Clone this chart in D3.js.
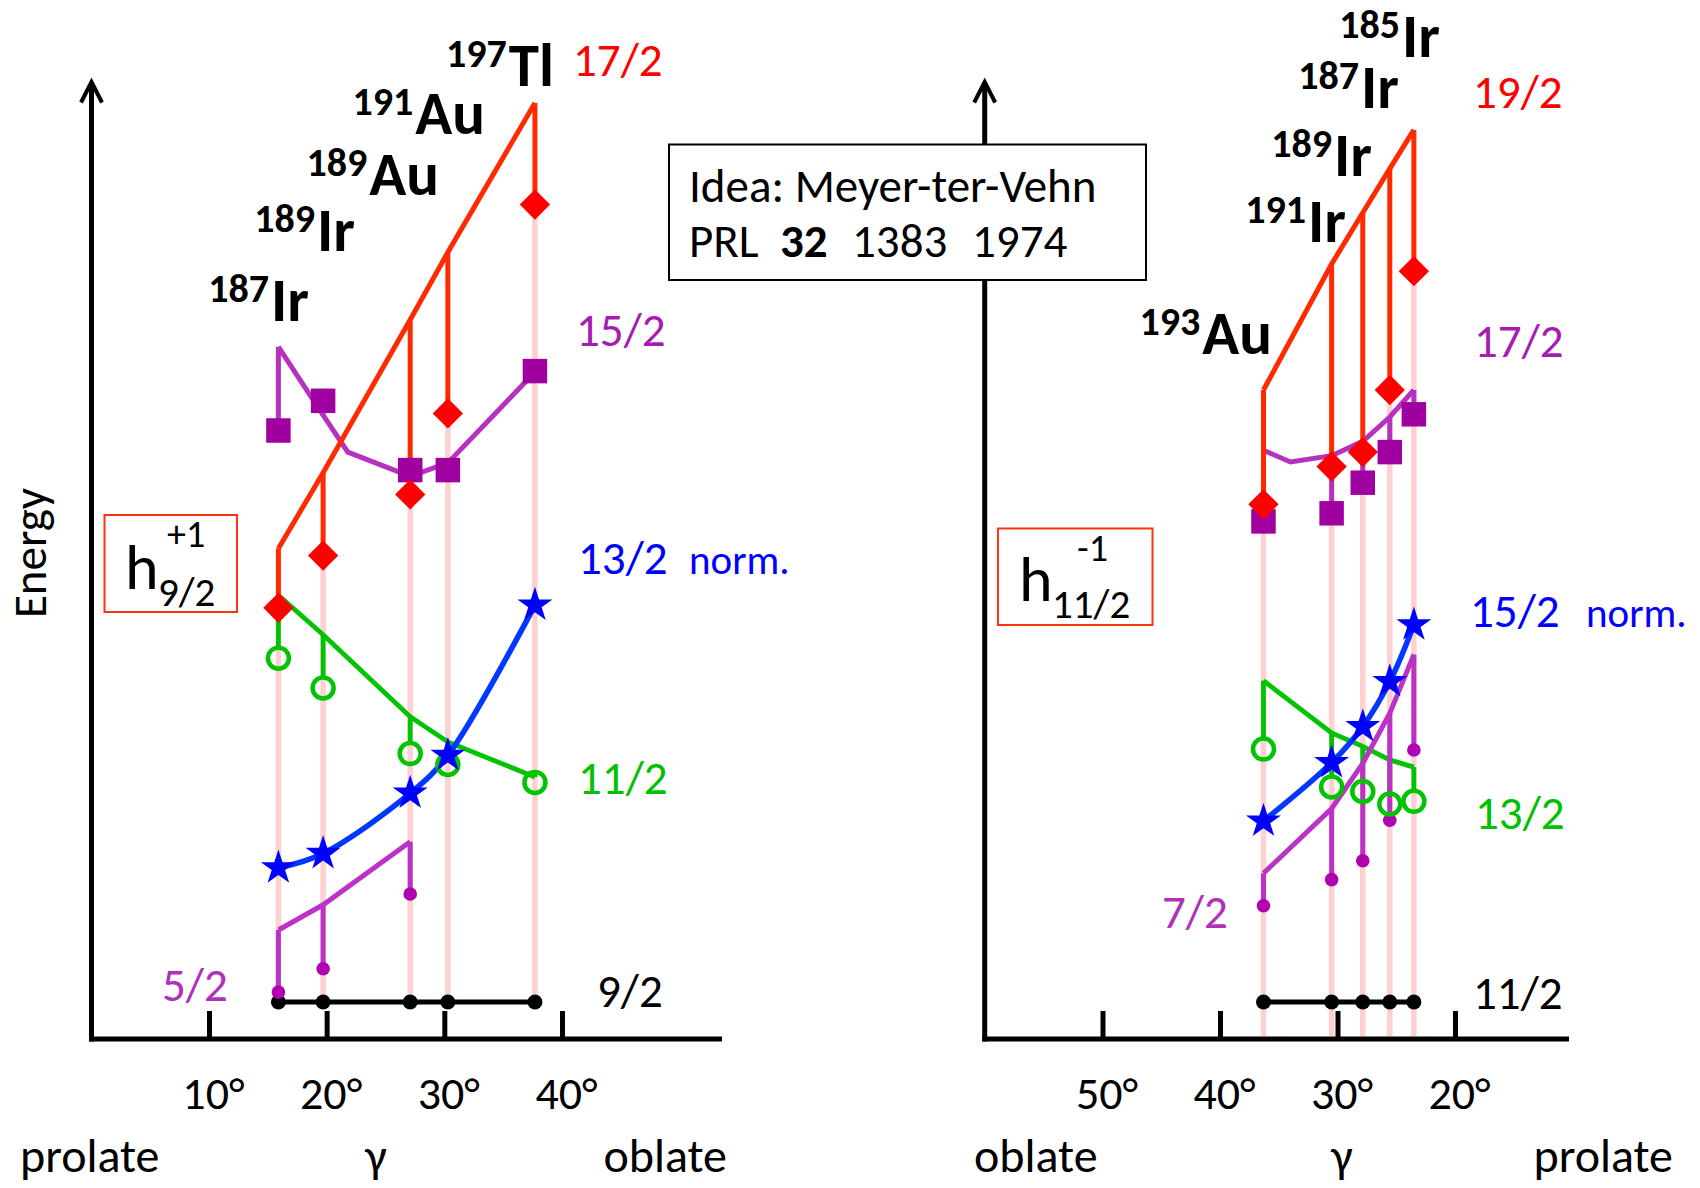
<!DOCTYPE html>
<html>
<head>
<meta charset="utf-8">
<script src="https://cdn.jsdelivr.net/npm/d3@7"></script>
<style>
  html, body { margin: 0; padding: 0; background: #fff; }
  svg { display: block; }
  text { font-family: Carlito, Lato, "DejaVu Sans", sans-serif; }
</style>
</head>
<body>
<svg id="chart" width="1700" height="1188"></svg>
<script>
// ---- data -------------------------------------------------------------
// triaxiality gamma (degrees) of each nucleus
const gammaLeft  = [15.9, 19.7, 27.1, 30.3, 37.7];
const gammaRight = [36.3, 30.5, 27.85, 25.55, 23.5];

const nucleiLeft  = [["187", "Ir"], ["189", "Ir"], ["189", "Au"], ["191", "Au"], ["197", "Tl"]];
const nucleiRight = [["193", "Au"], ["191", "Ir"], ["189", "Ir"], ["187", "Ir"], ["185", "Ir"]];

const ticksLeft  = [10, 20, 30, 40];
const ticksRight = [50, 40, 30, 20];

// h9/2 particle band, energies in arbitrary units (calc = model, exp = measured)
const left17calc = [5.04, 5.88, 7.58, 8.33, 9.99];
const left17exp  = [4.38, 4.96, 5.64, 6.54, 8.86];
const left15calc = [7.28, 6.52, 5.84, 5.99, 7.00];
const left15bend = [[21.8, 6.11]];
const left15exp  = [6.35, 6.68, 5.91, 5.91, 7.01];
const left13     = [1.49, 1.65, 2.32, 2.74, 4.41];
const left11calc = [4.52, 4.08, 3.17, 2.89, 2.50];
const left11exp  = [3.82, 3.49, 2.76, 2.64, 2.44];
const left5calc  = [0.80, 1.08, 1.78];
const left5exp   = [0.11, 0.37, 1.20];
const left9      = [0, 0, 0, 0, 0];

// h11/2 hole band
const right19calc = [6.80, 8.20, 8.77, 9.26, 9.69];
const right19exp  = [5.53, 5.95, 6.11, 6.80, 8.12];
const right17calc = [6.13, 6.07, 6.23, 6.50, 6.80];
const right17bend = [[34.0, 6.00]];
const right17exp  = [5.34, 5.43, 5.77, 6.11, 6.53];
const right15     = [2.01, 2.66, 3.06, 3.56, 4.19];
const right13calc = [3.57, 2.99, 2.84, 2.69, 2.61];
const right13exp  = [2.81, 2.39, 2.34, 2.20, 2.23];
const right7calc  = [1.43, 2.15, 2.65, 3.21, 3.86];
const right7exp   = [1.07, 1.36, 1.57, 2.02, 2.80];
const right11     = [0, 0, 0, 0, 0];

const spinsLeft  = ["17/2", "15/2", "13/2", "11/2", "9/2", "5/2"];
const spinsRight = ["19/2", "17/2", "15/2", "13/2", "11/2", "7/2"];

// ---- styles -----------------------------------------------------------
const C = {
  red: "#ff2a00", diamond: "#ff0000", redText: "#ff0000",
  purple: "#b531c0", square: "#a0009f", purpleText: "#a61cb3",
  green: "#00c400", greenText: "#00c000",
  blue: "#0038ff", star: "#0000ff", blueText: "#0000ff",
  magenta: "#bb33c4", dot: "#b000b0", magentaText: "#b030b8",
  pink: "#ffd0d0", box: "#ff3311"
};
const FS = 47;   // base label size

const svg = d3.select("#chart");
const y = d3.scaleLinear().domain([0, 10]).range([1002, 102]);

const panels = [
  {
    x: d3.scaleLinear().domain([0, 40]).range([91.3, 562]),
    axisX0: 91.5, axisX1: 722, axisY: 1039, arrowTop: 82,
    gamma: gammaLeft, ticks: ticksLeft, pinkBottom: 1002,
    red: [left17calc, left17exp],
    purple: [left15calc, left15exp, left15bend],
    green: [left11calc, left11exp],
    blue: left13,
    magenta: [left5calc, left5exp],
    base: left9,
    nuclei: nucleiLeft,
    nucleiPos: [[309, 321], [355, 251], [439, 195], [485, 134], [554, 86]],
    spins: spinsLeft,
    spinPos: [[573, 76], [576, 346], [578, 574], [578, 794], [597, 1007], [162, 1001]],
    spinColor: [C.redText, C.purpleText, C.blueText, C.greenText, "#000", C.magentaText],
    normPos: [689, 574],
    bottom: [["prolate", 20, "start"], ["\u03b3", 376, "middle"], ["oblate", 727, "end"]],
    box: { x: 104.5, y: 515, w: 132.5, h: 97, hx: 125, hy: 589, sub: "9/2", subx: 158, suby: 606, sup: "+1", supx: 167, supy: 547 }
  },
  {
    x: d3.scaleLinear().domain([60, 20]).range([985, 1455]),
    axisX0: 984.7, axisX1: 1569, axisY: 1039, arrowTop: 82,
    gamma: gammaRight, ticks: ticksRight, pinkBottom: 1036,
    red: [right19calc, right19exp],
    purple: [right17calc, right17exp, right17bend],
    green: [right13calc, right13exp],
    blue: right15,
    magenta: [right7calc, right7exp],
    base: right11,
    nuclei: nucleiRight,
    nucleiPos: [[1272, 354], [1346, 242], [1372, 176], [1399, 108], [1440, 57]],
    spins: spinsRight,
    spinPos: [[1473, 108], [1474, 357], [1470, 627], [1475, 829], [1473, 1009], [1162, 928]],
    spinColor: [C.redText, C.purpleText, C.blueText, C.greenText, "#000", C.magentaText],
    normPos: [1586, 627],
    bottom: [["oblate", 974, "start"], ["\u03b3", 1342, "middle"], ["prolate", 1673, "end"]],
    box: { x: 998, y: 528.5, w: 154.5, h: 96.5, hx: 1019, hy: 601, sub: "11/2", subx: 1052, suby: 618, sup: "-1", supx: 1077, supy: 561 }
  }
];

const line = d3.line();

function drawPanel(p) {
  const g = svg.append("g");
  const X = p.x;
  const col = i => X(p.gamma[i]);

  // axes
  g.append("line").attr("x1", p.axisX0).attr("x2", p.axisX0)
    .attr("y1", p.arrowTop + 1).attr("y2", p.axisY + 2.5)
    .attr("stroke", "#000").attr("stroke-width", 5);
  g.append("path")
    .attr("d", `M${p.axisX0 - 10.5},${p.arrowTop + 20.5} L${p.axisX0},${p.arrowTop} L${p.axisX0 + 10.5},${p.arrowTop + 20.5}`)
    .attr("fill", "none").attr("stroke", "#000").attr("stroke-width", 4);
  g.append("line").attr("x1", p.axisX0 - 2.5).attr("x2", p.axisX1)
    .attr("y1", p.axisY).attr("y2", p.axisY)
    .attr("stroke", "#000").attr("stroke-width", 5);

  const axis = d3.axisBottom(X).tickValues(p.ticks)
    .tickSizeInner(-28).tickSizeOuter(0).tickPadding(0)
    .tickFormat(d => d + "\u00b0");
  const ax = g.append("g").attr("transform", `translate(0,${p.axisY})`).call(axis);
  ax.select(".domain").remove();
  ax.selectAll(".tick line").attr("stroke", "#000").attr("stroke-width", 5);
  ax.selectAll(".tick text")
    .attr("y", 70).attr("dy", 0).attr("x", 4)
    .attr("font-size", 46).attr("fill", "#000")
    .style("font-family", "Carlito, Lato, sans-serif");

  // pale guides under each nucleus
  p.gamma.forEach((gm, i) => {
    g.append("line").attr("x1", col(i)).attr("x2", col(i))
      .attr("y1", y(p.red[1][i])).attr("y2", p.pinkBottom)
      .attr("stroke", C.pink).attr("stroke-width", 5.5);
  });

  // ground band member
  g.append("path").attr("d", line(p.base.map((v, i) => [col(i), y(v)])))
    .attr("fill", "none").attr("stroke", "#000").attr("stroke-width", 5);

  // calculated curve + drop lines to the measured level
  function band(calc, exp, color, width, bends, stopGap) {
    let pts = calc.map((v, i) => [p.gamma[i], v]);
    if (bends) pts = pts.concat(bends);
    pts.sort((a, b) => X(a[0]) - X(b[0]));
    g.append("path").attr("d", line(pts.map(d => [X(d[0]), y(d[1])])))
      .attr("fill", "none").attr("stroke", color).attr("stroke-width", width)
      .attr("stroke-linejoin", "miter");
    calc.forEach((v, i) => {
      const y1 = y(v), y2 = y(exp[i]);
      const dir = y2 > y1 ? 1 : -1;
      g.append("line").attr("x1", col(i)).attr("x2", col(i))
        .attr("y1", y1).attr("y2", y2 - dir * (stopGap || 0))
        .attr("stroke", color).attr("stroke-width", width);
    });
  }

  band(p.green[0], p.green[1], C.green, 4.8, null, 12);
  band(p.magenta[0], p.magenta[1], C.magenta, 5, null, 0);

  // normalised level: smooth curve through the points
  g.append("path")
    .attr("d", d3.line().curve(d3.curveCatmullRom.alpha(0.5))(p.blue.map((v, i) => [col(i), y(v)]).sort((a, b) => a[0] - b[0])))
    .attr("fill", "none").attr("stroke", C.blue).attr("stroke-width", 5.5);

  band(p.purple[0], p.purple[1], C.purple, 5, p.purple[2], 0);
  band(p.red[0], p.red[1], C.red, 5, null, 0);

  // markers
  const sym = (type, size) => d3.symbol().type(type).size(size)();
  p.base.forEach((v, i) => g.append("circle").attr("cx", col(i)).attr("cy", y(v)).attr("r", 7.5).attr("fill", "#000"));
  p.magenta[1].forEach((v, i) => g.append("circle").attr("cx", col(i)).attr("cy", y(v)).attr("r", 6.8).attr("fill", C.dot));
  p.green[1].forEach((v, i) => g.append("circle").attr("cx", col(i)).attr("cy", y(v)).attr("r", 10.5)
    .attr("fill", "none").attr("stroke", C.green).attr("stroke-width", 4.5));
  p.blue.forEach((v, i) => g.append("path").attr("d", sym(d3.symbolStar, 380))
    .attr("transform", `translate(${col(i)},${y(v)})`).attr("fill", C.star));
  p.purple[1].forEach((v, i) => g.append("path").attr("d", sym(d3.symbolSquare, 600))
    .attr("transform", `translate(${col(i)},${y(v)})`).attr("fill", C.square));
  p.red[1].forEach((v, i) => g.append("path").attr("d", sym(d3.symbolSquare, 460))
    .attr("transform", `translate(${col(i)},${y(v)}) rotate(45)`).attr("fill", C.diamond));

  // nucleus names
  p.nuclei.forEach((n, i) => {
    const t = g.append("text").attr("x", p.nucleiPos[i][0]).attr("y", p.nucleiPos[i][1])
      .attr("text-anchor", "end").attr("font-weight", "bold").attr("fill", "#000");
    t.append("tspan").attr("font-size", 40).attr("dy", -19).text(n[0]);
    t.append("tspan").attr("font-size", 61).attr("dy", 19).attr("dx", 2).text(n[1]);
  });

  // spin labels
  p.spins.forEach((s, i) => {
    g.append("text").attr("x", p.spinPos[i][0]).attr("y", p.spinPos[i][1])
      .attr("font-size", FS).attr("fill", p.spinColor[i]).text(s);
  });
  g.append("text").attr("x", p.normPos[0]).attr("y", p.normPos[1])
    .attr("font-size", 41).attr("fill", C.blueText).text("norm.");

  // axis captions
  p.bottom.forEach(b => {
    g.append("text").attr("x", b[1]).attr("y", 1172).attr("text-anchor", b[2])
      .attr("font-size", 48).attr("fill", "#000").text(b[0]);
  });

  // shell label box
  const bx = p.box;
  g.append("rect").attr("x", bx.x).attr("y", bx.y).attr("width", bx.w).attr("height", bx.h)
    .attr("fill", "#fff").attr("stroke", C.box).attr("stroke-width", 2);
  g.append("text").attr("x", bx.hx).attr("y", bx.hy).attr("font-size", 64).attr("fill", "#000").text("h");
  g.append("text").attr("x", bx.subx).attr("y", bx.suby).attr("font-size", 41).attr("fill", "#000").text(bx.sub);
  g.append("text").attr("x", bx.supx).attr("y", bx.supy).attr("font-size", 38).attr("fill", "#000").text(bx.sup);
}

panels.forEach(drawPanel);

// vertical axis caption
svg.append("text").attr("transform", "translate(46,553) rotate(-90)")
  .attr("text-anchor", "middle").attr("font-size", FS).attr("fill", "#000").text("Energy");

// reference note
const note = svg.append("g");
note.append("rect").attr("x", 669).attr("y", 144.5).attr("width", 477).attr("height", 135.5)
  .attr("fill", "#fff").attr("stroke", "#000").attr("stroke-width", 2);
note.append("text").attr("x", 689).attr("y", 202).attr("font-size", FS).attr("fill", "#000")
  .text("Idea: Meyer-ter-Vehn");
const ref = note.append("text").attr("y", 257).attr("font-size", FS).attr("fill", "#000");
ref.append("tspan").attr("x", 689).text("PRL");
ref.append("tspan").attr("x", 780).attr("font-weight", "bold").text("32");
ref.append("tspan").attr("x", 852).text("1383");
ref.append("tspan").attr("x", 972).text("1974");
</script>
</body>
</html>
